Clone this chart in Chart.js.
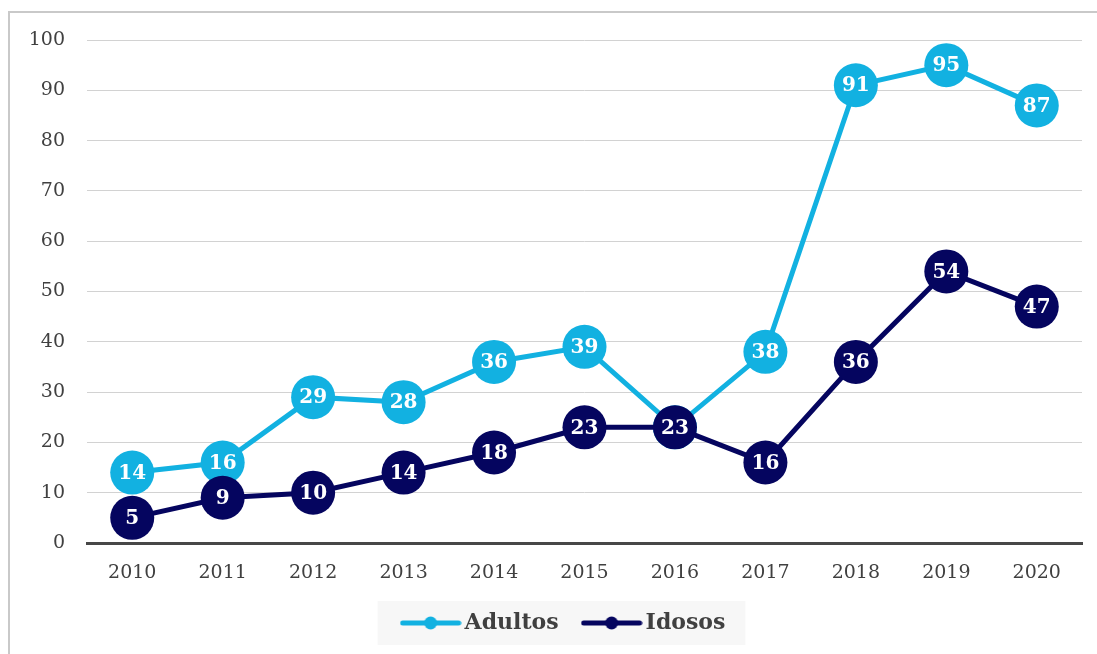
<!DOCTYPE html>
<html>
<head>
<meta charset="utf-8">
<script src="https://cdn.jsdelivr.net/npm/chart.js@4/dist/chart.umd.min.js"></script>
<style>
  html, body { margin: 0; padding: 0; background: #fff; }
  #wrap { position: relative; width: 1097px; height: 654px; }
</style>
</head>
<body>
<div id="wrap"><canvas id="grafico" width="1097" height="654"></canvas></div>
<script>
// dados
var anos    = ['2010','2011','2012','2013','2014','2015','2016','2017','2018','2019','2020'];
var adultos = [14, 16, 29, 28, 36, 39, 23, 38, 91, 95, 87];
var idosos  = [5, 9, 10, 14, 18, 23, 23, 16, 36, 54, 47];
var yTicks  = [0, 10, 20, 30, 40, 50, 60, 70, 80, 90, 100];

var corAdultos = '#12b1e1';
var corIdosos  = '#05055f';
var fonte = "'DejaVu Serif', 'Liberation Serif', serif";

// simbolo da legenda: linha com ponto no meio
function simbolo(cor) {
    var c = document.createElement('canvas');
    c.width = 62; c.height = 16;
    var g = c.getContext('2d');
    g.strokeStyle = cor;
    g.lineWidth = 5;
    g.lineCap = 'round';
    g.beginPath(); g.moveTo(3, 8); g.lineTo(59, 8); g.stroke();
    g.fillStyle = cor;
    g.beginPath(); g.arc(31, 8, 6.5, 0, Math.PI * 2); g.fill();
    return c;
}
var simbolos = [simbolo(corAdultos), simbolo(corIdosos)];

// fundo branco, moldura e caixa cinza da legenda
const fundo = {
    id: 'fundo',
    afterUpdate: (chart) => {
        // legenda um pouco a esquerda do centro da area do grafico
        const lg = chart.legend;
        lg.left -= 18;
        lg.right -= 18;
        lg.legendHitBoxes.forEach((h) => { h.left -= 18; });
    },
    beforeDraw: (chart) => {
        const ctx = chart.ctx;
        ctx.save();
        ctx.fillStyle = '#fff';
        ctx.fillRect(0, 0, chart.width, chart.height);
        ctx.strokeStyle = '#c9c9c9';
        ctx.lineWidth = 2;
        ctx.strokeRect(9, 12, chart.width + 20, chart.height + 20);
        const hb = chart.legend.legendHitBoxes;
        if (hb && hb.length) {
            const last = hb[hb.length - 1];
            const x0 = hb[0].left - 30;
            const x1 = last.left + last.width + 20;
            ctx.fillStyle = '#f7f7f7';
            ctx.fillRect(x0, hb[0].top - 11, x1 - x0, hb[0].height + 22);
        }
        ctx.restore();
    }
};

// valores escritos dentro de cada ponto
const rotulos = {
    id: 'rotulos',
    afterDatasetDraw: (chart, args) => {
        const ctx = chart.ctx;
        const ds = chart.data.datasets[args.index];
        const meta = args.meta;
        ctx.save();
        ctx.fillStyle = '#fff';
        ctx.font = 'bold 20px ' + fonte;
        ctx.textAlign = 'center';
        ctx.textBaseline = 'middle';
        meta.data.forEach((pt, i) => {
            ctx.fillText(String(ds.data[i]), pt.x, pt.y + 1);
        });
        ctx.restore();
    }
};

var ctx = document.getElementById('grafico').getContext('2d');
var grafico = new Chart(ctx, {
    type: 'line',
    data: {
        labels: anos,
        datasets: [{
            label: 'Adultos',
            data: adultos,
            order: 1,
            borderColor: corAdultos,
            backgroundColor: corAdultos,
            borderWidth: 5,
            pointStyle: 'circle',
            pointRadius: 22,
            pointHoverRadius: 22,
            pointBorderWidth: 0,
            pointBackgroundColor: corAdultos,
            clip: false,
            tension: 0
        }, {
            label: 'Idosos',
            data: idosos,
            order: 0,
            borderColor: corIdosos,
            backgroundColor: corIdosos,
            borderWidth: 5,
            pointStyle: 'circle',
            pointRadius: 22,
            pointHoverRadius: 22,
            pointBorderWidth: 0,
            pointBackgroundColor: corIdosos,
            clip: false,
            tension: 0
        }]
    },
    options: {
        responsive: false,
        animation: false,
        events: [],
        layout: {
            autoPadding: false,
            padding: { left: 0, right: 15, top: 40, bottom: 10 }
        },
        scales: {
            x: {
                offset: true,
                afterFit: (scale) => {
                    scale.height = 39;
                    scale.paddingLeft = 0;
                    scale.paddingRight = 0;
                },
                grid: { display: false, drawTicks: false },
                border: { display: true, color: '#474747', width: 3 },
                ticks: {
                    color: '#404040',
                    padding: 19,
                    maxRotation: 0,
                    font: { family: fonte, size: 19 }
                }
            },
            y: {
                min: 0,
                max: 100,
                afterFit: (scale) => { scale.width = 87; },
                afterBuildTicks: (scale) => {
                    scale.ticks = yTicks.map((v) => ({ value: v }));
                },
                grid: { color: '#d2d2d2', lineWidth: 1, drawTicks: false },
                border: { display: false },
                ticks: {
                    color: '#404040',
                    padding: 22,
                    font: { family: fonte, size: 19 }
                }
            }
        },
        plugins: {
            tooltip: { enabled: false },
            legend: {
                position: 'bottom',
                fullSize: false,
                labels: {
                    usePointStyle: true,
                    pointStyleWidth: 46,
                    padding: 30,
                    color: '#404040',
                    font: { family: fonte, size: 22, weight: 'bold' },
                    sort: (a, b) => a.datasetIndex - b.datasetIndex,
                    generateLabels: (chart) => chart.data.datasets.map((d, i) => ({
                        text: d.label,
                        datasetIndex: i,
                        pointStyle: simbolos[i],
                        fillStyle: d.borderColor,
                        strokeStyle: d.borderColor,
                        lineWidth: 0,
                        fontColor: '#404040',
                        hidden: false
                    }))
                }
            }
        }
    },
    plugins: [fundo, rotulos]
});
</script>
</body>
</html>
